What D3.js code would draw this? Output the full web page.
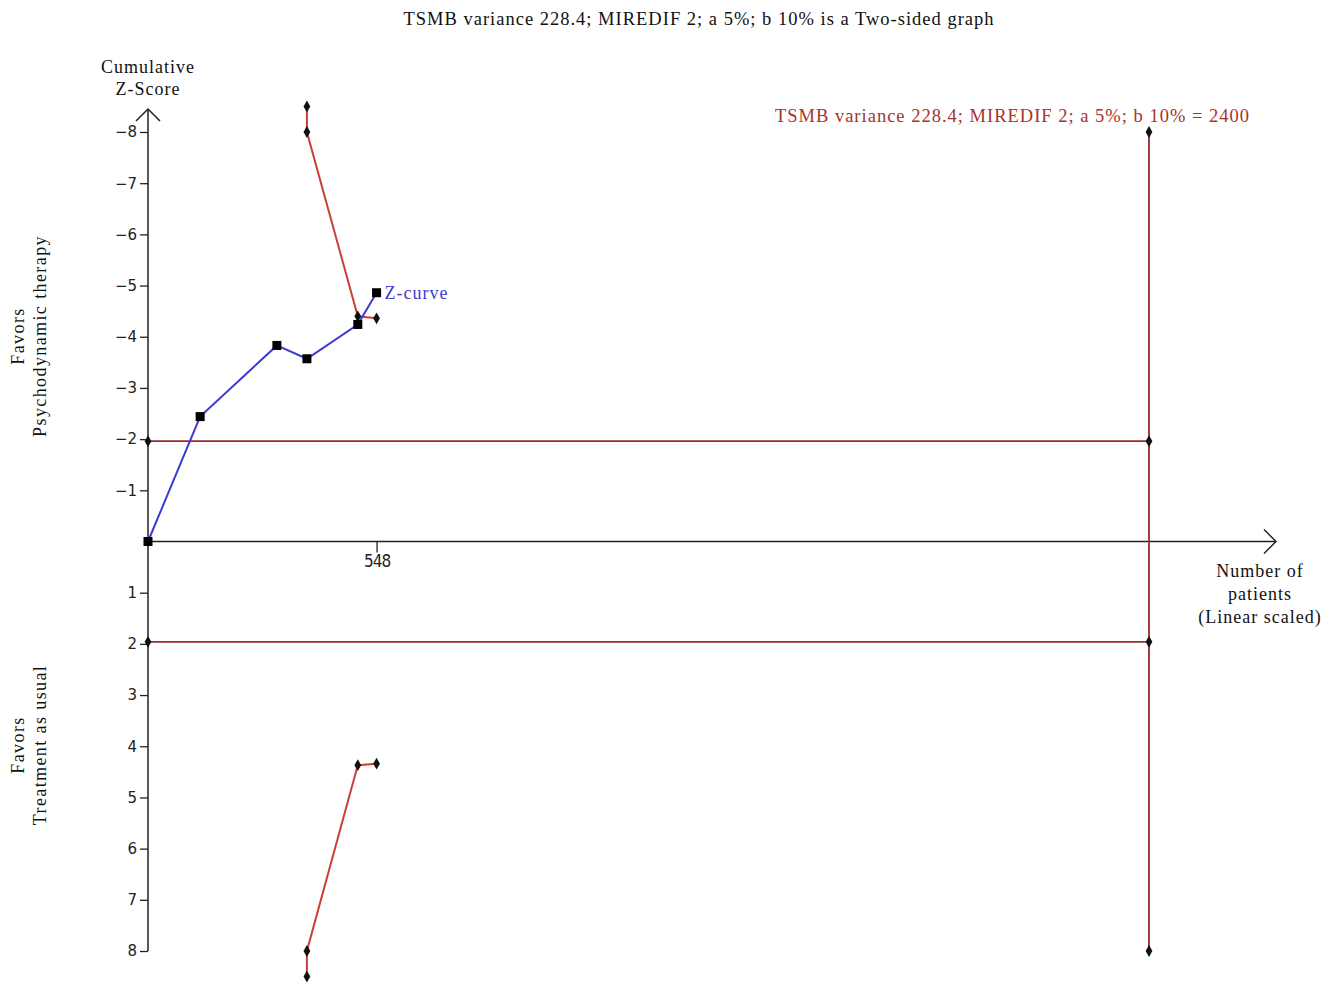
<!DOCTYPE html>
<html>
<head>
<meta charset="utf-8">
<script src="https://cdn.jsdelivr.net/npm/d3@7"></script>
<style>
body { margin: 0; background: #fff; }
text { font-family: "Liberation Serif", "DejaVu Serif", serif; letter-spacing: 1px; }
.tick text { font-family: "DejaVu Sans", Verdana, sans-serif; font-size: 15px; fill: #222; letter-spacing: 0; }
</style>
</head>
<body>
<script>
var width = 1330;
var height = 984;

// data
var zPatients = [0, 125, 309, 381, 503, 548];
var zScores = [0, -2.44, -3.83, -3.57, -4.24, -4.86];

var upperPatients = [381, 381, 503, 548];
var upperBound = [-8.5, -8, -4.40, -4.36];
var lowerPatients = [381, 381, 503, 548];
var lowerBound = [8.5, 8, 4.37, 4.34];

var conventional = [-1.96, 1.96];
var requiredSize = 2400;
var xTickValues = [548];
var yTickValues = [-8, -7, -6, -5, -4, -3, -2, -1, 1, 2, 3, 4, 5, 6, 7, 8];

var title = 'TSMB  variance 228.4; MIREDIF 2; a 5%; b 10% is a Two-sided graph';
var risLabel = 'TSMB  variance 228.4; MIREDIF 2; a 5%; b 10% = 2400';

var svg = d3.select('body')
    .append('svg')
    .attr('width', width)
    .attr('height', height);

var x = d3.scaleLinear().domain([0, 2400]).range([148, 1149]);
var y = d3.scaleLinear().domain([-8, 8]).range([132, 951]);

var redDark = '#9c2b2b';
var redLine = '#c8403a';
var blue = '#3b3bd0';

// title
svg.append('text')
    .attr('x', 699).attr('y', 25)
    .attr('text-anchor', 'middle')
    .style('font-size', '18.5px')
    .attr('fill', '#111')
    .text(title);

// y axis
var yAxis = d3.axisLeft(y)
    .tickValues(yTickValues)
    .tickSize(8)
    .tickPadding(3)
    .tickFormat(d3.format('d'));

var gy = svg.append('g')
    .attr('transform', 'translate(' + x(0) + ',0)')
    .call(yAxis);
gy.select('.domain').remove();
gy.selectAll('.tick line').attr('stroke', '#222').attr('stroke-width', 1.3);

svg.append('line')
    .attr('x1', x(0)).attr('x2', x(0))
    .attr('y1', 109).attr('y2', y(8))
    .attr('stroke', '#222').attr('stroke-width', 1.5);
svg.append('path')
    .attr('d', 'M' + (x(0) - 12) + ',121 L' + x(0) + ',109 L' + (x(0) + 12) + ',121')
    .attr('fill', 'none').attr('stroke', '#222').attr('stroke-width', 1.5);

// x axis
var xAxis = d3.axisBottom(x)
    .tickValues(xTickValues)
    .tickSize(11)
    .tickPadding(4);

var gx = svg.append('g')
    .attr('transform', 'translate(0,' + y(0) + ')')
    .call(xAxis);
gx.select('.domain').remove();
gx.selectAll('.tick line').attr('stroke', '#222').attr('stroke-width', 1.3);
gx.selectAll('.tick text')
    .style('font-family', '"DejaVu Sans Condensed", "DejaVu Sans", sans-serif')
    .style('font-size', '17px')
    .style('letter-spacing', '-1px')
    .attr('y', 20)
    .attr('dy', '0.32em');

svg.append('line')
    .attr('x1', x(0)).attr('x2', 1276)
    .attr('y1', y(0)).attr('y2', y(0))
    .attr('stroke', '#222').attr('stroke-width', 1.5);
svg.append('path')
    .attr('d', 'M1264,' + (y(0) - 12) + ' L1276,' + y(0) + ' L1264,' + (y(0) + 12))
    .attr('fill', 'none').attr('stroke', '#222').attr('stroke-width', 1.5);

// axis titles
svg.append('text')
    .attr('text-anchor', 'middle')
    .style('font-size', '18px').attr('fill', '#111')
    .selectAll('tspan')
    .data(['Cumulative', 'Z-Score'])
    .enter().append('tspan')
    .attr('x', x(0)).attr('y', function(d, i) { return 73 + i * 22; })
    .text(function(d) { return d; });

svg.append('text')
    .attr('text-anchor', 'middle')
    .style('font-size', '18px').attr('fill', '#111')
    .selectAll('tspan')
    .data(['Number of', 'patients', '(Linear scaled)'])
    .enter().append('tspan')
    .attr('x', 1260).attr('y', function(d, i) { return 577 + i * 23; })
    .text(function(d) { return d; });

function sideLabel(cy, lines) {
    var t = svg.append('text')
        .attr('transform', 'translate(0,' + cy + ') rotate(-90)')
        .attr('text-anchor', 'middle')
        .style('font-size', '18px')
        .style('letter-spacing', '1.4px')
        .attr('fill', '#111');
    t.selectAll('tspan')
        .data(lines)
        .enter().append('tspan')
        .attr('x', 0).attr('y', function(d, i) { return 24 + i * 22; })
        .text(function(d) { return d; });
}
sideLabel(336, ['Favors', 'Psychodynamic therapy']);
sideLabel(745, ['Favors', 'Treatment as usual']);

// conventional boundaries
conventional.forEach(function(c) {
    svg.append('line')
        .attr('x1', x(0)).attr('x2', x(requiredSize))
        .attr('y1', y(c)).attr('y2', y(c))
        .attr('stroke', redDark).attr('stroke-width', 1.8);
});

// required information size
svg.append('line')
    .attr('x1', x(requiredSize)).attr('x2', x(requiredSize))
    .attr('y1', y(-8)).attr('y2', y(8))
    .attr('stroke', redDark).attr('stroke-width', 1.8);

svg.append('text')
    .attr('x', 1250).attr('y', 122)
    .attr('text-anchor', 'end')
    .style('font-size', '18.5px')
    .attr('fill', '#a8322a')
    .text(risLabel);

var dotPts = [
    [0, -1.96], [0, 1.96],
    [requiredSize, -8], [requiredSize, -1.96], [requiredSize, 1.96], [requiredSize, 8]
];

// monitoring boundaries
var line = d3.line()
    .x(function(d) { return x(d[0]); })
    .y(function(d) { return y(d[1]); });

var upper = upperPatients.map(function(p, i) { return [p, upperBound[i]]; });
var lower = lowerPatients.map(function(p, i) { return [p, lowerBound[i]]; });

[upper, lower].forEach(function(b) {
    svg.append('path')
        .datum(b)
        .attr('d', line)
        .attr('fill', 'none')
        .attr('stroke', redLine)
        .attr('stroke-width', 2);
    dotPts = dotPts.concat(b);
});

// z-curve
var zc = zPatients.map(function(p, i) { return [p, zScores[i]]; });
svg.append('path')
    .datum(zc)
    .attr('d', line)
    .attr('fill', 'none')
    .attr('stroke', blue)
    .attr('stroke-width', 2);

svg.selectAll('path.dot')
    .data(dotPts)
    .enter()
    .append('path')
    .attr('class', 'dot')
    .attr('d', d3.symbol().type(d3.symbolDiamond).size(40))
    .attr('transform', function(d) { return 'translate(' + x(d[0]) + ',' + y(d[1]) + ')'; })
    .attr('fill', '#111');

svg.selectAll('rect.zpt')
    .data(zc)
    .enter()
    .append('rect')
    .attr('class', 'zpt')
    .attr('x', function(d) { return x(d[0]) - 4.5; })
    .attr('y', function(d) { return y(d[1]) - 4.5; })
    .attr('width', 9)
    .attr('height', 9)
    .attr('fill', '#000');

svg.append('text')
    .attr('x', x(548) + 8).attr('y', y(-4.86) + 6)
    .style('font-size', '18px')
    .attr('fill', blue)
    .text('Z-curve');
</script>
</body>
</html>
